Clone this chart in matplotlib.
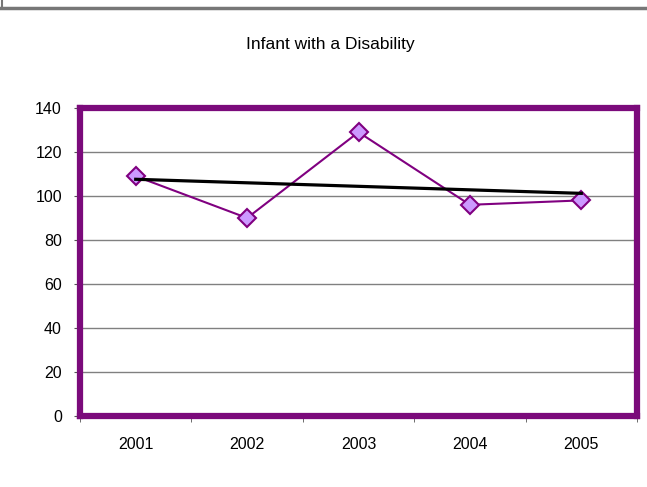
import matplotlib
matplotlib.use('Agg')
import matplotlib.pyplot as plt
import numpy as np

plt.rcParams['font.family'] = ['Liberation Sans', 'DejaVu Sans']

# data
years = ['2001', '2002', '2003', '2004', '2005']
counts = [109, 90, 129, 96, 98]
y_ticks = [0, 20, 40, 60, 80, 100, 120, 140]

x = np.arange(len(years))
# linear trend line
slope, intercept = np.polyfit(x, counts, 1)
trend = slope * x + intercept

fig = plt.figure(figsize=(6.47, 4.87), dpi=100)
ax = fig.add_axes([80 / 647, 71 / 487, 557 / 647, 308 / 487])

# grey window edge at the top
fig.add_artist(plt.Line2D([0, 1], [479.5 / 487, 479.5 / 487], color='#777777', lw=2.5))
fig.add_artist(plt.Line2D([1.5 / 647, 1.5 / 647], [479 / 487, 1], color='#777777', lw=1.5))

for yv in y_ticks[1:-1]:
    ax.axhline(yv, color='#808080', lw=1, zorder=1)

ax.plot(x, counts, color='#800080', lw=1.5, marker='D', ms=9,
        markerfacecolor='#cc99ff', markeredgecolor='#800080', mew=1.5, zorder=3)
ax.plot([x[0], x[-1]], [trend[0], trend[-1]], color='black', lw=2.3, zorder=4)

ax.set_xlim(-0.5, 4.5)
ax.set_ylim(0, 140)
ax.set_yticks(y_ticks)
ax.set_yticklabels([str(v) for v in y_ticks], fontsize=11.5)
ax.set_xticks(x)
ax.set_xticklabels(years, fontsize=11.5)
ax.set_xticks(np.arange(-0.5, 5, 1), minor=True)
ax.tick_params(axis='x', which='major', length=0, pad=15)
ax.tick_params(axis='x', which='minor', length=4, color='#555555')
ax.tick_params(axis='y', length=4, color='#555555', pad=9)

for s in ax.spines.values():
    s.set_color('#7b0a7b')
    s.set_linewidth(4.5)

fig.text(330 / 647, 1 - 44 / 487, 'Infant with a Disability', ha='center', va='center', fontsize=12.5)

fig.savefig('out.png', dpi=100)
